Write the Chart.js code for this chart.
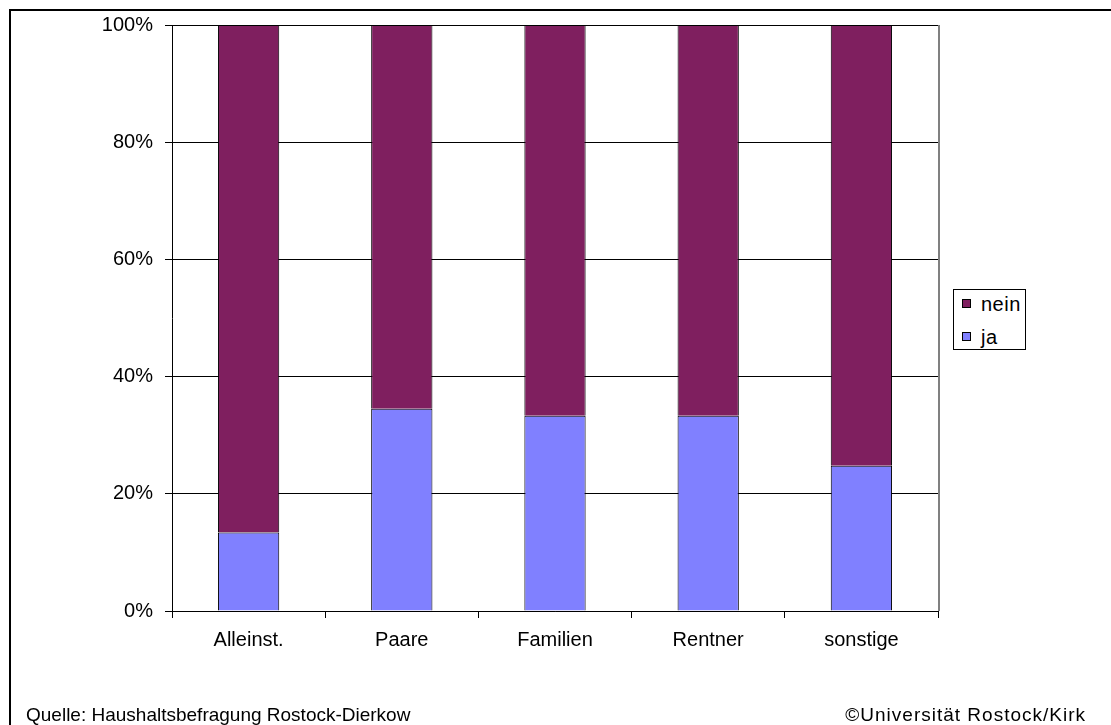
<!DOCTYPE html>
<html>
<head>
<meta charset="utf-8">
<script src="https://cdn.jsdelivr.net/npm/chart.js@4/dist/chart.umd.min.js"></script>
<style>
  html, body { margin: 0; padding: 0; background: #fff; }
  body { width: 1111px; height: 725px; position: relative; overflow: hidden; font-family: "Liberation Sans", Arial, sans-serif; }
  #frame { position: absolute; left: 9px; top: 9px; width: 1200px; height: 800px; border: 2px solid #000; box-sizing: border-box; }
  #wrap { position: absolute; left: 0; top: 0; width: 1111px; height: 725px; }
  #legend { position: absolute; left: 953px; top: 289px; width: 73px; height: 61px; box-sizing: border-box; border: 1px solid #000; background: #fff; font-size: 20px; }
  .li { position: absolute; left: 8px; height: 20px; line-height: 20px; white-space: nowrap; }
  .sw { position: absolute; left: 0; top: 5px; width: 7px; height: 7px; border: 1px solid #000; }
  .lt { position: absolute; left: 19px; top: 0; letter-spacing: 0.5px; }
  .foot { position: absolute; top: 705px; font-size: 19px; line-height: 20px; color: #000; white-space: nowrap; }
</style>
</head>
<body>
<div id="frame"></div>
<div id="wrap"><canvas id="c" width="1111" height="725"></canvas></div>
<div id="legend"></div>
<div class="foot" style="left:26px;">Quelle: Haushaltsbefragung Rostock-Dierkow</div>
<div class="foot" style="right:25px; letter-spacing: 1px;">©Universität Rostock/Kirk</div>
<script>
const categories = ["Alleinst.", "Paare", "Familien", "Rentner", "sonstige"];
const jaValues = [13.4, 34.5, 33.3, 33.3, 24.8];
const neinValues = [86.6, 65.5, 66.7, 66.7, 75.2];
const yTicks = [0, 20, 40, 60, 80, 100];
const seriesNames = ["ja", "nein"];
const seriesColors = ["#8080FF", "#7F1F5F"];

const plotRightBorder = {
  id: 'plotRightBorder',
  afterDraw(chart) {
    const a = chart.chartArea, ctx = chart.ctx;
    ctx.save();
    ctx.strokeStyle = '#808080';
    ctx.lineWidth = 2;
    ctx.beginPath();
    ctx.moveTo(a.right + 1, a.top);
    ctx.lineTo(a.right + 1, a.bottom);
    ctx.stroke();
    ctx.restore();
  }
};

const FONT = '"Liberation Sans", Arial, sans-serif';

const chart = new Chart(document.getElementById('c'), {
  type: 'bar',
  data: {
    labels: categories,
    datasets: [
      { label: seriesNames[0], data: jaValues, backgroundColor: seriesColors[0], borderColor: '#000', borderWidth: 1, barPercentage: 0.4, categoryPercentage: 1.0 },
      { label: seriesNames[1], data: neinValues, backgroundColor: seriesColors[1], borderColor: '#000', borderWidth: 1, barPercentage: 0.4, categoryPercentage: 1.0 }
    ]
  },
  options: {
    responsive: false,
    animation: false,
    layout: { padding: { left: 0, top: 25, right: 173, bottom: 0 } },
    plugins: { legend: { display: false }, tooltip: { enabled: false } },
    scales: {
      x: {
        stacked: true,
        grid: { display: true, drawOnChartArea: false, drawTicks: true, tickLength: 7, color: '#000', offset: true },
        border: { display: true, color: '#000', width: 1 },
        ticks: { color: '#000', font: { family: FONT, size: 20 }, padding: 10 },
        afterFit(scale) { scale.height = 114; }
      },
      y: {
        stacked: true,
        min: 0, max: 100,
        afterBuildTicks(scale) { scale.ticks = yTicks.map(v => ({ value: v })); },
        grid: { color: '#000', lineWidth: 1, tickLength: 7, drawTicks: true },
        border: { display: true, color: '#000', width: 1 },
        ticks: { color: '#000', font: { family: FONT, size: 20 }, padding: 12, callback: v => v + '%' },
        afterFit(scale) { scale.width = 172; }
      }
    }
  },
  plugins: [plotRightBorder]
});

// legend in reverse order (nein above ja), built from the datasets
const leg = document.getElementById('legend');
const ds = chart.data.datasets.slice().reverse();
ds.forEach((d, i) => {
  const item = document.createElement('div');
  item.className = 'li';
  item.style.top = (4 + i * 33) + 'px';
  item.innerHTML = '<span class="sw" style="background:' + d.backgroundColor + '"></span><span class="lt">' + d.label + '</span>';
  leg.appendChild(item);
});
</script>
</body>
</html>
